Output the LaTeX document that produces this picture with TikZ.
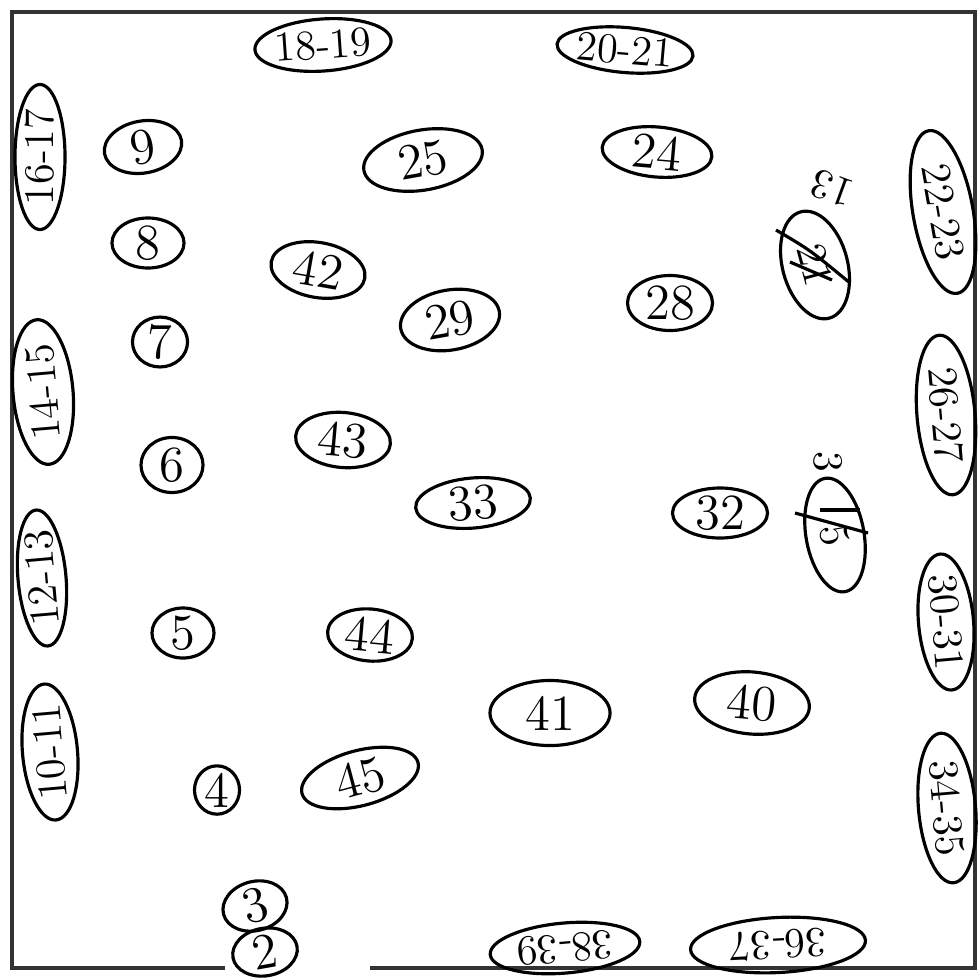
\documentclass[tikz,border=0pt]{standalone}
\usepackage{tikz}
\usetikzlibrary{shapes.geometric}

\begin{document}
\begin{tikzpicture}[
    x=0.01cm, y=-0.01cm,
    spot/.style={draw, ellipse, line width=0.9pt, inner sep=0pt, font=\Large},
    wall/.style={spot, font=\large},
    frame/.style={line width=1pt, draw=black!80},
    strike/.style={line width=0.9pt}
  ]
    \useasboundingbox (0,0) rectangle (980,979);
    % room outline
    \draw[frame] (225,968) -- (12,968) -- (12,12) -- (975,12) -- (975,968) -- (370,968);
    % top wall
    \node[wall, minimum width=1.35cm, minimum height=0.52cm, rotate=4] (t18) at (323,45) {18-19};
    \node[wall, minimum width=1.25cm, minimum height=0.45cm, rotate=-5] (t20) at (625,50) {20-21};
    % left wall
    \node[wall, minimum width=1.45cm, minimum height=0.5cm, rotate=90] (l16) at (40,157) {16-17};
    \node[wall, minimum width=1.45cm, minimum height=0.6cm, rotate=95] (l14) at (43,392) {14-15};
    \node[wall, minimum width=1.23cm, minimum height=0.48cm, rotate=95] (l12) at (42,578) {12-13};
    \node[wall, minimum width=1.3cm, minimum height=0.55cm, rotate=95] (l10) at (50,752) {10-11};
    % right wall
    \node[wall, minimum width=1.65cm, minimum height=0.6cm, rotate=-80] (r22) at (943,212) {22-23};
    \node[wall, minimum width=1.6cm, minimum height=0.58cm, rotate=-85] (r26) at (946,415) {26-27};
    \node[wall, minimum width=1.35cm, minimum height=0.55cm, rotate=-85] (r30) at (946,622) {30-31};
    \node[wall, minimum width=1.5cm, minimum height=0.57cm, rotate=-85] (r34) at (947,808) {34-35};
    % bottom wall
    \node[wall, minimum width=1.5cm, minimum height=0.5cm, rotate=185] (b38) at (565,948) {38-39};
    \node[wall, minimum width=1.75cm, minimum height=0.55cm, rotate=183] (b36) at (778,945) {36-37};
    % left column
    \node[spot, minimum width=0.78cm, minimum height=0.52cm, rotate=10] (n9) at (143,147) {9};
    \node[spot, minimum width=0.72cm, minimum height=0.5cm] (n8) at (148,243) {8};
    \node[spot, minimum width=0.55cm, minimum height=0.45cm] (n7) at (160,342) {7};
    \node[spot, minimum width=0.62cm, minimum height=0.55cm] (n6) at (172,465) {6};
    \node[spot, minimum width=0.62cm, minimum height=0.5cm] (n5) at (183,633) {5};
    \node[spot, minimum width=0.45cm, minimum height=0.4cm] (n4) at (217,790) {4};
    \node[spot, minimum width=0.65cm, minimum height=0.42cm, rotate=15] (n3) at (255,906) {3};
    \node[spot, minimum width=0.65cm, minimum height=0.4cm, rotate=10] (n2) at (265,952) {2};
    % middle
    \node[spot, minimum width=1.2cm, minimum height=0.6cm, rotate=10] (n25) at (423,160) {25};
    \node[spot, minimum width=1.1cm, minimum height=0.5cm, rotate=-5] (n24) at (657,152) {24};
    \node[spot, minimum width=0.95cm, minimum height=0.55cm, rotate=-10] (n42) at (318,270) {42};
    \node[spot, minimum width=1.0cm, minimum height=0.6cm, rotate=10] (n29) at (450,320) {29};
    \node[spot, minimum width=0.85cm, minimum height=0.55cm] (n28) at (670,303) {28};
    \node[spot, minimum width=0.95cm, minimum height=0.55cm, rotate=-5] (n43) at (343,440) {43};
    \node[spot, minimum width=1.15cm, minimum height=0.5cm, rotate=5] (n33) at (473,503) {33};
    \node[spot, minimum width=0.95cm, minimum height=0.5cm] (n32) at (720,513) {32};
    \node[spot, minimum width=0.85cm, minimum height=0.52cm, rotate=-5] (n44) at (370,635) {44};
    \node[spot, minimum width=1.2cm, minimum height=0.65cm] (n41) at (550,713) {41};
    \node[spot, minimum width=1.15cm, minimum height=0.62cm, rotate=-5] (n40) at (752,703) {40};
    \node[spot, minimum width=1.2cm, minimum height=0.55cm, rotate=15] (n45) at (360,778) {45};
    % crossed out
    \node[wall, minimum width=1.1cm, minimum height=0.65cm, rotate=-75] (x21) at (815,265) {21};
    \node[font=\large, rotate=160] (x13) at (832,188) {13};
    \draw[strike] (776,230) .. controls (810,250) .. (850,283);
    \draw[strike] (790,262) -- (832,280);
    \node[wall, minimum width=1.15cm, minimum height=0.58cm, rotate=-80] (x5) at (835,535) {5};
    \node[font=\large, rotate=-90] (x3) at (828,462) {3};
    \draw[strike] (795,513) -- (868,533);
    \draw[strike] (820,510) -- (860,510);
\end{tikzpicture}
\end{document}
